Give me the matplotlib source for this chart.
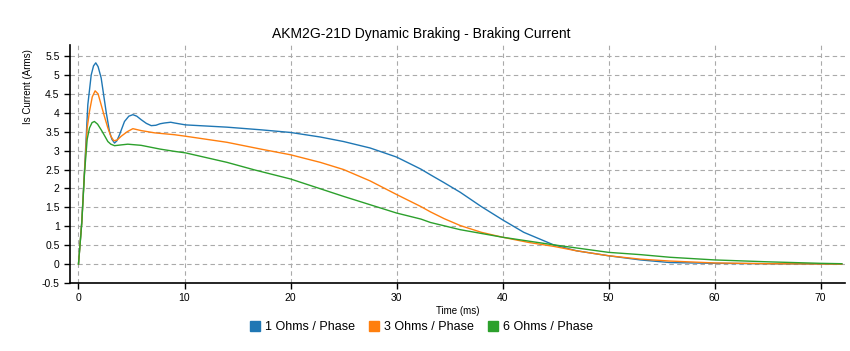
import numpy as np
import matplotlib
matplotlib.use("Agg")
import matplotlib.pyplot as plt
from matplotlib.lines import Line2D

plt.rcParams['font.family'] = ['Liberation Sans', 'DejaVu Sans']

# values (time in ms, current in Arms)
t_1ohm = [0, 0.31, 0.57, 0.88, 1.2, 1.42, 1.63, 1.85, 2.14, 2.6, 2.92, 3.15, 3.4, 3.62, 3.87, 4.34,
          4.75, 5.13, 5.5, 5.9, 6.4, 6.86, 7.3, 7.7, 8.1, 8.7, 9.06, 10.1, 14, 17.2, 20, 22.8, 25,
          27.5, 30, 32.3, 33.2, 34.5, 36, 38, 40, 42, 44.8, 47, 50, 53, 55.8, 60, 65, 72]
i_1ohm = [0, 1.12, 2.48, 4.21, 5.0, 5.24, 5.32, 5.22, 4.92, 4.04, 3.51, 3.3, 3.2, 3.26, 3.42, 3.77,
          3.91, 3.95, 3.91, 3.82, 3.72, 3.66, 3.67, 3.71, 3.73, 3.75, 3.73, 3.68, 3.62, 3.55, 3.48, 3.36, 3.24,
          3.07, 2.83, 2.51, 2.36, 2.15, 1.9, 1.52, 1.17, 0.84, 0.51, 0.35, 0.22, 0.11, 0.04, 0.02, 0.01, 0]

t_3ohm = [0, 0.31, 0.57, 0.82, 1.04, 1.3, 1.57, 1.85, 2.14, 2.45, 2.77, 3.05, 3.33, 3.65, 4.03, 4.6,
          5.13, 5.9, 7.17, 9.06, 10.1, 14, 17.2, 20, 22.8, 25, 27.5, 30, 32.3, 33.2, 34.5, 36, 38, 40,
          42.5, 44.8, 47, 50, 53, 55.8, 60, 65, 72]
i_3ohm = [0, 1.1, 2.45, 3.6, 4.04, 4.42, 4.58, 4.5, 4.21, 3.9, 3.6, 3.38, 3.26, 3.28, 3.38, 3.5,
          3.58, 3.53, 3.47, 3.42, 3.38, 3.22, 3.04, 2.89, 2.69, 2.5, 2.2, 1.84, 1.52, 1.38, 1.2, 1.02, 0.84, 0.71,
          0.57, 0.47, 0.35, 0.22, 0.13, 0.08, 0.03, 0.01, 0]

t_6ohm = [0, 0.31, 0.57, 0.82, 1.04, 1.28, 1.5, 1.8, 2.14, 2.45, 2.77, 3.05, 3.4, 4.0, 4.65, 5.9,
          7.7, 9.06, 10.1, 14, 16.6, 20, 25, 30, 32.3, 33.2, 36, 40, 44.8, 50, 53, 55.8, 60, 65, 70, 72]
i_6ohm = [0, 1.08, 2.41, 3.3, 3.6, 3.74, 3.77, 3.7, 3.55, 3.4, 3.24, 3.17, 3.13, 3.15, 3.17, 3.14,
          3.04, 2.98, 2.94, 2.69, 2.49, 2.25, 1.79, 1.35, 1.19, 1.10, 0.91, 0.71, 0.51, 0.31, 0.25, 0.18, 0.11, 0.06,
          0.02, 0.01]

series = [("1 Ohms / Phase", t_1ohm, i_1ohm, "#1f77b4"),
          ("3 Ohms / Phase", t_3ohm, i_3ohm, "#ff7f0e"),
          ("6 Ohms / Phase", t_6ohm, i_6ohm, "#2ca02c")]

y_ticks = np.arange(-0.5, 5.51, 0.5)
x_ticks = np.arange(0, 71, 10)

fig = plt.figure(figsize=(8.5, 3.51), dpi=100)
ax = fig.add_axes([70 / 850, 1 - 283 / 351, 775 / 850, (283 - 44.7) / 351])

for name, t, cur, col in series:
    ax.plot(t, cur, color=col, lw=1.0, label=name, solid_joinstyle='round')

ax.set_xlim(-0.8, 72.3)
ax.set_ylim(-0.5, 5.8)
ax.set_xticks(x_ticks)
ax.set_yticks(y_ticks)
ax.set_yticklabels([f"{v:g}" for v in y_ticks])
ax.tick_params(labelsize=7.5, direction='out', length=4, width=1)
ax.grid(True, color='#aaaaaa', linestyle=(0, (4, 3)), lw=0.8)
ax.set_axisbelow(True)
for s in ['top', 'right']:
    ax.spines[s].set_visible(False)
ax.spines['left'].set_linewidth(1.2)
ax.spines['bottom'].set_linewidth(1.2)

ax.set_xlabel("Time (ms)", fontsize=7, labelpad=2)
fig.text(28 / 850, 1 - 87 / 351, "Is Current (Arms)", rotation=90, fontsize=7,
         ha='center', va='center')
fig.text(0.495, 1 - 34 / 351, "AKM2G-21D Dynamic Braking - Braking Current",
         fontsize=10, ha='center', va='center')

handles = [Line2D([], [], marker='s', linestyle='none', markersize=7.5, color=c)
           for _, _, _, c in series]
fig.legend(handles, [s[0] for s in series], loc='center', bbox_to_anchor=(0.495, 1 - 327 / 351),
           ncol=3, frameon=False, fontsize=9, handletextpad=0.3, columnspacing=1.0,
           handlelength=1.0)

fig.savefig("out.png", dpi=100)
